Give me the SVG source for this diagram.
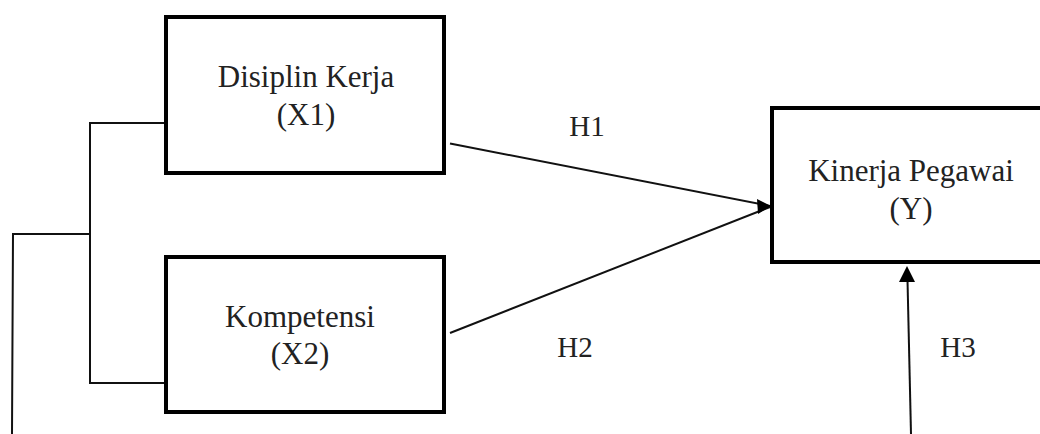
<svg xmlns="http://www.w3.org/2000/svg" width="1040" height="434" viewBox="0 0 1040 434">
<style>
.box{fill:#fff;stroke:#000;stroke-width:4}
.t{font-family:"Liberation Serif","Times New Roman",serif;font-size:31px;fill:#222;text-anchor:middle}
.h{font-family:"Liberation Serif","Times New Roman",serif;font-size:29px;fill:#222;text-anchor:middle}
.ln{stroke:#111;stroke-width:2;fill:none}
</style>
<rect width="1040" height="434" fill="#fff"/>
<g id="connectors">
<polyline class="ln" points="166,123 90,123 90,383 166,383"/>
<polyline class="ln" points="90,234 13,234 12,434"/>
<line class="ln" x1="450" y1="143.5" x2="770" y2="206"/>
<line class="ln" x1="450" y1="333" x2="770" y2="207"/>
<path d="M757,199 L771,206 L758,214 Z" fill="#000"/>
<line class="ln" x1="911" y1="434" x2="907.5" y2="280"/>
<path d="M899,282 L907,266 L915,282 Z" fill="#000"/>
<text class="h" x="587" y="136">H1</text>
<text class="h" x="575" y="357">H2</text>
<text class="h" x="958" y="357">H3</text>
</g>
<g id="node-x1">
<rect class="box" x="166" y="17" width="278" height="156"/>
<text class="t" x="306" y="87">Disiplin Kerja</text>
<text class="t" x="306" y="125">(X1)</text>
</g>
<g id="node-x2">
<rect class="box" x="166" y="257" width="278" height="155"/>
<text class="t" x="300" y="327">Kompetensi</text>
<text class="t" x="300" y="364">(X2)</text>
</g>
<g id="node-y">
<rect class="box" x="772" y="108" width="290" height="154"/>
<text class="t" x="911" y="181">Kinerja Pegawai</text>
<text class="t" x="911" y="219">(Y)</text>
</g>
</svg>
